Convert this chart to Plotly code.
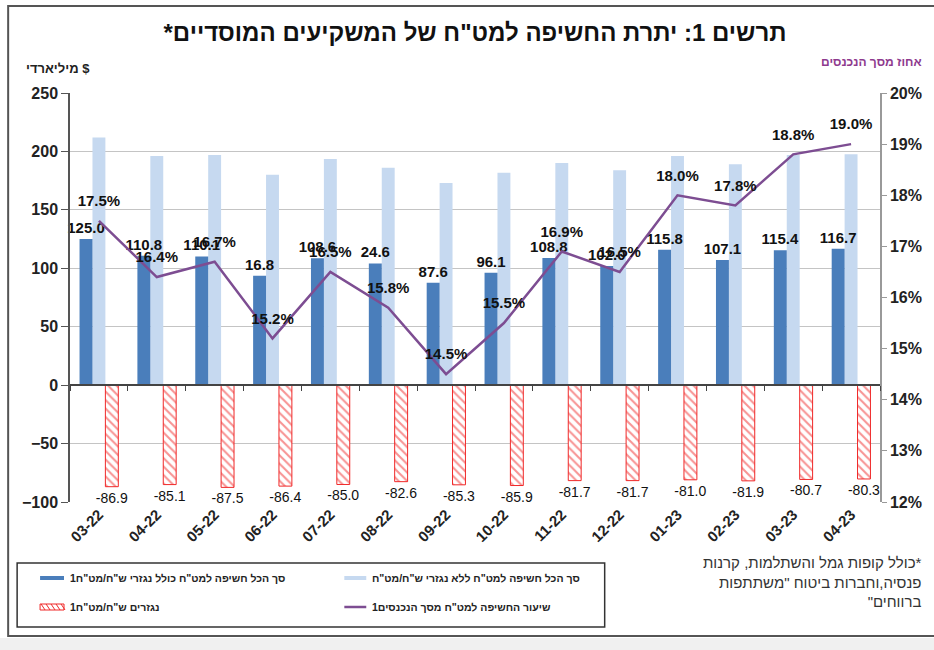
import plotly.graph_objects as go

# ---------------- data ----------------
categories = ["03-22", "04-22", "05-22", "06-22", "07-22", "08-22", "09-22",
              "10-22", "11-22", "12-22", "01-23", "02-23", "03-23", "04-23"]
total_incl = [125.0, 110.8, 110.1, 93.6, 108.6, 104.2, 87.6,
              96.1, 108.8, 102.0, 115.8, 107.1, 115.4, 116.7]
total_incl_labels = ["125.0", "110.8", "110.1", "16.8", "108.6", "24.6", "87.6",
                     "96.1", "108.8", "102.0", "115.8", "107.1", "115.4", "116.7"]
total_excl = [212.0, 196.0, 197.0, 180.0, 193.5, 186.0, 173.0,
              181.8, 190.0, 184.0, 196.0, 189.0, 197.0, 197.5]
derivatives = [-86.9, -85.1, -87.5, -86.4, -85.0, -82.6, -85.3,
               -85.9, -81.7, -81.7, -81.0, -81.9, -80.7, -80.3]
share_pct = [17.5, 16.4, 16.7, 15.2, 16.5, 15.8, 14.5,
             15.5, 16.9, 16.5, 18.0, 17.8, 18.8, 19.0]

RLE, PDF = "\u202b", "\u202c"
def rtl(s):
    return RLE + s + PDF

title_text = 'תרשים 1: יתרת החשיפה למט"ח של המשקיעים המוסדיים*'
left_title = 'מיליארדי $'
right_title = 'אחוז מסך הנכנסים'
legend_names = ['סך הכל חשיפה למט"ח כולל נגזרי ש"ח/מט"ח1',
                'סך הכל חשיפה למט"ח ללא נגזרי ש"ח/מט"ח',
                'נגזרים ש"ח/מט"ח1',
                'שיעור החשיפה למט"ח מסך הנכנסים1']
footnote_lines = ['*כולל קופות גמל והשתלמות, קרנות',
                  'פנסיה,וחברות ביטוח "משתתפות',
                  'ברווחים"']

# ---------------- colours ----------------
DARK = "#4a7ebb"
LIGHT = "#c6d9f0"
RED = "#f02828"
PURPLE = "#7d4d92"
MAGENTA = "#8e3a8e"
FONT = "Arial, Liberation Sans, sans-serif"

# ---------------- geometry helpers ----------------
W, H = 934, 650
L, R, T, B = 70, 52, 93, 148
PW, PH = W - L - R, H - T - B
def px(x):
    return (x - L) / PW
def py(y):
    return (H - B - y) / PH

BW = 0.67 / 3  # bar width in category units

fig = go.Figure()

fig.add_trace(go.Bar(
    x=categories, y=total_excl, name=legend_names[1],
    width=BW, offset=-BW / 2,
    marker=dict(color=LIGHT, line=dict(width=0)), showlegend=False,
))
fig.add_trace(go.Bar(
    x=categories, y=derivatives, name=legend_names[2],
    width=BW, offset=BW / 2,
    marker=dict(color="white", line=dict(color=RED, width=1),
                pattern=dict(shape="\\", fgcolor=RED, bgcolor="white", size=6, solidity=0.35)),
    text=[f"{v:.1f}" for v in derivatives], textposition="outside",
    textfont=dict(family=FONT, size=14, color="#111"),
    constraintext="none", cliponaxis=False, showlegend=False,
))
fig.add_trace(go.Bar(
    x=categories, y=total_incl, name=legend_names[0],
    width=BW, offset=-1.5 * BW,
    marker=dict(color=DARK, line=dict(width=0)),
    text=total_incl_labels, textposition="outside",
    textfont=dict(family=FONT, size=15, color="#111", weight="bold"),
    constraintext="none", cliponaxis=False, showlegend=False,
))
fig.add_trace(go.Scatter(
    x=categories, y=share_pct, name=legend_names[3],
    xaxis="x2", yaxis="y2", mode="lines+markers+text",
    line=dict(color=PURPLE, width=2.5),
    marker=dict(size=16, color="rgba(0,0,0,0)"),
    text=[f"{v:.1f}%" for v in share_pct], textposition="top center",
    textfont=dict(family=FONT, size=15, color="#111", weight="bold"),
    cliponaxis=False, showlegend=False,
))

shapes = []
# outer frame and bottom strip
shapes.append(dict(type="rect", xref="paper", yref="paper", x0=px(-5), x1=px(945), y0=py(655), y1=py(638),
                   fillcolor="#f0f0f0", line=dict(width=0), layer="below"))
shapes.append(dict(type="rect", xref="paper", yref="paper", x0=px(8), x1=px(945), y0=py(636), y1=py(6),
                   line=dict(color="#555", width=2), layer="below"))
# legend box
shapes.append(dict(type="rect", xref="paper", yref="paper", x0=px(17), x1=px(606), y0=py(627), y1=py(563),
                   line=dict(color="#333", width=1.5)))
# legend swatches
shapes.append(dict(type="rect", xref="paper", yref="paper", x0=px(40), x1=px(64), y0=py(580), y1=py(576),
                   fillcolor=DARK, line=dict(width=0)))
shapes.append(dict(type="rect", xref="paper", yref="paper", x0=px(345), x1=px(367), y0=py(580), y1=py(576),
                   fillcolor=LIGHT, line=dict(width=0)))
shapes.append(dict(type="rect", xref="paper", yref="paper", x0=px(40), x1=px(64), y0=py(610), y1=py(604),
                   fillcolor="white", line=dict(color=RED, width=1)))
for k in range(5):
    shapes.append(dict(type="line", xref="paper", yref="paper", x0=px(41 + 5 * k), x1=px(45 + 5 * k),
                       y0=py(604), y1=py(610), line=dict(color=RED, width=1)))
shapes.append(dict(type="line", xref="paper", yref="paper", x0=px(345), x1=px(367), y0=py(607), y1=py(607),
                   line=dict(color=PURPLE, width=2.5)))

annotations = []
leg_pos = [(68, 578), (371, 578), (68, 607), (371, 607)]
for name, (lx, ly) in zip(legend_names, leg_pos):
    annotations.append(dict(text=rtl(name), xref="paper", yref="paper", x=px(lx), y=py(ly),
                            xanchor="left", yanchor="middle", showarrow=False,
                            font=dict(family=FONT, size=10.5, color="#222", weight="bold")))
annotations.append(dict(text=left_title, xref="paper", yref="paper", x=px(58), y=py(68),
                        xanchor="center", yanchor="middle", showarrow=False,
                        font=dict(family=FONT, size=13, color="#222", weight="bold")))
annotations.append(dict(text=rtl(right_title), xref="paper", yref="paper", x=px(873), y=py(62),
                        xanchor="center", yanchor="middle", showarrow=False,
                        font=dict(family=FONT, size=12, color=MAGENTA, weight="bold")))
annotations.append(dict(text="<br>".join(rtl(s) for s in footnote_lines), xref="paper", yref="paper",
                        x=px(926), y=py(552), xanchor="right", yanchor="top", align="right", showarrow=False,
                        font=dict(family=FONT, size=15, color="#333")))

fig.update_layout(
    width=W, height=H, autosize=False,
    margin=dict(l=L, r=R, t=T, b=B, pad=0),
    paper_bgcolor="white", plot_bgcolor="white",
    font=dict(family=FONT, color="#111"),
    title=dict(text=rtl(title_text), x=0.5, xref="paper", xanchor="center",
               y=1 - 33 / H, yref="container", yanchor="middle",
               font=dict(family=FONT, size=24, color="#111", weight="bold")),
    barmode="group",
    showlegend=False,
    xaxis=dict(type="category", categoryorder="array", categoryarray=categories,
               range=[-0.5, len(categories) - 0.5],
               tickangle=-45, ticks="", showgrid=False, showline=False, zeroline=False,
               tickfont=dict(family=FONT, size=15, color="#222", weight="bold")),
    xaxis2=dict(type="category", categoryorder="array", categoryarray=categories,
                range=[-0.5, len(categories) - 0.5], overlaying="x", anchor="free",
                position=100 / 350, showticklabels=False, ticks="outside", tickson="boundaries",
                ticklen=5, tickcolor="#444", showline=True, linecolor="#444", linewidth=2,
                showgrid=False, zeroline=False),
    yaxis=dict(range=[-100, 250], dtick=50, showgrid=True, gridcolor="#c4c4c4", gridwidth=1,
               zeroline=False, showline=True, linecolor="#555", linewidth=1.5,
               ticks="outside", ticklen=7, tickcolor="#555",
               tickfont=dict(family=FONT, size=16, color="#222", weight="bold")),
    yaxis2=dict(range=[12, 20], dtick=1, ticksuffix="%", overlaying="y", side="right",
                showgrid=False, zeroline=False, showline=True, linecolor="#999", linewidth=1.5,
                ticks="outside", ticklen=5, tickcolor="#999",
                tickfont=dict(family=FONT, size=16, color="#222", weight="bold")),
    shapes=shapes, annotations=annotations,
)

fig.write_html("out.html", config={"displayModeBar": False},
               post_script="document.body.style.margin='0';")
